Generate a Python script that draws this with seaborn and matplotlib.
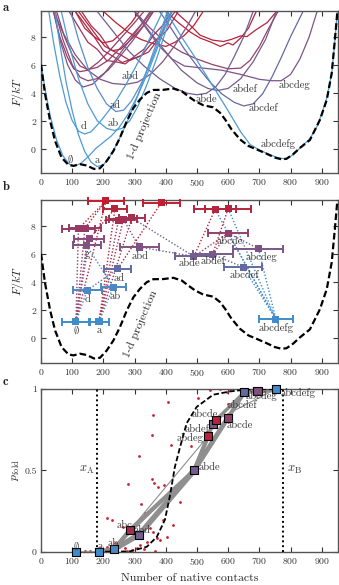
import numpy as np
import pandas as pd
import matplotlib
matplotlib.use("Agg")
import matplotlib.pyplot as plt
import seaborn as sns
from matplotlib.colors import LinearSegmentedColormap, Normalize

# ---------------- data: panel b states ----------------
state_names = ["E", "a", "d", "ab", "ad", "abcdef", "abde", "abdef", "abcdeg", "abd",
               "g", "u1", "abcde", "u2", "u3", "u4", "u5", "u6", "u7", "u8",
               "u9", "u10", "u11", "abcdefg"]
state_x = [112, 186, 148, 232, 246, 648, 490, 550, 697, 315,
           146, 155, 600, 120, 141, 248, 264, 291, 558, 600,
           237, 208, 385, 753]
state_F = [1.18, 1.18, 3.39, 3.63, 4.94, 5.05, 5.81, 5.96, 6.36, 6.48,
           6.60, 7.07, 7.47, 7.78, 7.83, 8.38, 8.45, 8.55, 9.16, 9.21,
           9.21, 9.76, 9.62, 1.35]
state_xerr = [44, 33, 47, 39, 44, 60, 61, 64, 80, 62,
              45, 48, 64, 54, 51, 40, 45, 42, 66, 74,
              38, 58, 59, 54]
state_labels_b = {"E": "$\\emptyset$", "a": "a", "d": "d", "ab": "ab", "ad": "ad",
                  "abd": "abd", "g": "g", "abde": "abde", "abdef": "abdef",
                  "abcde": "abcde", "abcdeg": "abcdeg", "abcdef": "abcdef",
                  "abcdefg": "abcdefg"}
label_pos_b = {"E": (112, 0.55), "a": (186, 0.55), "d": (150, 2.8), "ab": (237, 2.96),
               "ad": (250, 4.29), "abd": (317, 5.85), "g": (148, 6.0), "abde": (475, 5.33),
               "abdef": (552, 5.47), "abcde": (606, 6.9), "abcdeg": (707, 5.76),
               "abcdef": (652, 4.45), "abcdefg": (755, 0.73)}

# transitions drawn as dotted lines in panel b: (from, to, colour-of-state)
edges_b = [("E", "u2", "u2"), ("E", "u3", "u3"), ("E", "u1", "u1"), ("E", "g", "g"),
           ("E", "u10", "u10"), ("E", "d", "d"), ("a", "u9", "u9"), ("a", "u4", "u4"),
           ("a", "u5", "u5"), ("a", "u6", "u6"), ("a", "ab", "ab"), ("d", "ad", "ad"),
           ("g", "ab", "ab"), ("u2", "u10", "u10"), ("u3", "u10", "u10"), ("u1", "u9", "u9"),
           ("u6", "abde", "abde"), ("abd", "abde", "abde"), ("ad", "u11", "u11"),
           ("abde", "abcde", "abcde"), ("abde", "u7", "u7"), ("abdef", "abcde", "abcde"),
           ("abdef", "u8", "u8"), ("abde", "abdef", "abdef"), ("abcde", "abcdeg", "abcdeg"),
           ("abcdef", "abcdefg", "abcdefg"), ("abcdeg", "abcdefg", "abcdefg"),
           ("abcde", "abcdefg", "abcdefg"), ("u8", "abcdefg", "abcdefg"),
           ("u7", "abcdefg", "abcdefg"), ("abdef", "abcdef", "abcdef"), ("u5", "abd", "abd")]

# ---------------- data: panel a free-energy curves (x, F) ----------------
fe_E = [(0, 6.0), (15, 4.0), (30, 2.3), (50, 0.6), (70, -0.5), (90, -1.1), (105, -1.22),
        (125, -1.1), (150, -0.6), (175, 0.0), (200, 0.45), (225, 0.9), (250, 1.5), (280, 2.5),
        (310, 3.8), (340, 5.3), (370, 7.0), (400, 8.8), (418, 9.8)]
fe_a = [(45, 9.8), (60, 7.5), (80, 4.8), (100, 2.7), (120, 1.0), (140, -0.2), (160, -0.95),
        (180, -1.28), (200, -1.15), (220, -0.6), (245, 0.4), (270, 1.6), (300, 3.2),
        (330, 5.0), (360, 6.9), (390, 8.8), (405, 9.8)]
fe_d = [(25, 9.8), (40, 7.6), (60, 5.2), (80, 3.3), (100, 2.0), (120, 1.25), (140, 1.05),
        (160, 1.2), (185, 1.8), (210, 2.5), (240, 3.4), (270, 4.5), (300, 5.7), (330, 7.0),
        (360, 8.4), (390, 9.8)]
fe_ab = [(65, 9.8), (90, 7.4), (120, 5.0), (150, 3.2), (180, 2.0), (210, 1.45), (235, 1.3),
         (260, 1.45), (285, 2.0), (310, 3.0), (340, 4.6), (370, 6.4), (400, 8.4), (420, 9.8)]
fe_ad = [(95, 9.8), (120, 7.8), (150, 5.8), (180, 4.3), (210, 3.2), (240, 2.65), (265, 2.75),
         (290, 3.4), (320, 4.6), (350, 6.1), (380, 7.8), (410, 9.8)]
fe_abcdefg = [(400, 9.8), (450, 8.0), (500, 6.3), (550, 4.5), (600, 2.7), (640, 1.2),
              (670, 0.3), (700, -0.1), (730, -0.4), (760, -0.65), (787, -0.75), (810, -0.4),
              (835, 0.15), (862, 0.7), (885, 1.6), (900, 2.5), (916, 3.6), (932, 5.4),
              (942, 7.7), (950, 9.8)]
fe_abd = [(40, 9.8), (70, 8.3), (110, 6.7), (150, 5.6), (190, 4.95), (230, 4.65), (270, 4.58),
          (310, 4.75), (350, 5.3), (390, 6.2), (430, 7.4), (470, 8.8), (495, 9.8)]
fe_abde = [(180, 9.8), (230, 8.4), (280, 7.0), (330, 5.9), (380, 5.0), (430, 4.3), (470, 3.95),
           (500, 3.85), (530, 3.95), (560, 4.4), (590, 5.3), (620, 6.6), (650, 8.0), (680, 9.8)]
fe_abdef = [(300, 9.8), (350, 8.3), (400, 6.9), (450, 5.6), (500, 4.7), (535, 4.3), (565, 4.15),
            (600, 4.3), (640, 5.0), (680, 6.2), (720, 7.8), (755, 9.8)]
fe_abcdef = [(380, 9.8), (420, 8.5), (460, 7.1), (500, 5.9), (540, 4.8), (580, 3.9), (620, 3.3),
             (650, 3.05), (680, 3.2), (710, 3.9), (740, 5.1), (770, 6.5), (800, 8.0), (840, 9.8)]
fe_abcdeg = [(300, 9.8), (340, 8.5), (380, 7.3), (420, 6.4), (460, 5.9), (520, 5.75), (580, 5.6),
             (640, 5.3), (700, 4.95), (740, 4.85), (770, 4.85), (800, 5.3), (830, 6.4),
             (860, 8.0), (885, 9.8)]
fe_abcde = [(300, 9.8), (350, 8.6), (400, 7.6), (450, 6.9), (500, 6.4), (550, 6.0), (600, 5.7),
            (640, 5.75), (670, 6.3), (700, 7.3), (730, 8.6), (760, 9.8)]
fe_g = [(40, 9.8), (60, 7.8), (85, 6.0), (110, 4.9), (135, 4.4), (165, 4.6), (200, 5.3),
        (240, 6.4), (280, 7.6), (320, 8.8), (350, 9.8)]
fe_u1 = [(45, 9.8), (70, 7.8), (100, 6.0), (125, 5.1), (150, 4.85), (180, 5.0), (215, 5.6),
         (250, 6.5), (290, 7.6), (330, 8.8), (360, 9.8)]
fe_u2 = [(40, 9.8), (60, 8.0), (85, 6.5), (105, 5.7), (125, 5.5), (150, 5.6), (185, 6.2),
         (220, 7.0), (260, 8.0), (300, 9.0), (330, 9.8)]
fe_u3 = [(50, 9.8), (75, 8.0), (100, 6.7), (125, 5.9), (150, 5.65), (180, 5.8), (215, 6.3),
         (255, 7.2), (295, 8.2), (335, 9.2), (355, 9.8)]
fe_u4 = [(90, 9.8), (120, 8.7), (150, 7.6), (180, 7.1), (210, 6.3), (240, 6.2), (270, 6.05),
         (300, 6.6), (330, 7.1), (360, 8.1), (390, 8.8), (420, 9.8)]
fe_u5 = [(110, 9.8), (140, 8.6), (170, 8.0), (200, 7.0), (230, 6.6), (260, 6.15), (290, 6.4),
         (320, 6.6), (350, 7.4), (380, 8.0), (410, 9.2), (430, 9.8)]
fe_u6 = [(130, 9.8), (160, 8.8), (190, 8.1), (220, 7.1), (255, 6.7), (285, 6.3), (315, 6.6),
         (345, 6.9), (375, 7.8), (405, 8.5), (440, 9.8)]
fe_u7 = [(400, 9.8), (440, 9.0), (480, 8.3), (510, 7.9), (545, 7.6), (575, 7.3), (600, 7.55),
         (615, 7.4), (640, 7.9), (665, 8.6), (690, 9.8)]
fe_u8 = [(430, 9.8), (470, 9.0), (510, 8.1), (550, 7.75), (585, 7.65), (610, 7.8), (640, 8.05),
         (660, 8.0), (690, 8.5), (725, 9.0), (755, 9.8)]
fe_u9 = [(120, 9.8), (150, 8.9), (180, 8.0), (205, 7.3), (230, 7.0), (255, 7.1), (280, 7.6),
         (310, 8.3), (340, 9.1), (360, 9.8)]
fe_u10 = [(110, 9.8), (140, 8.9), (170, 8.0), (200, 7.55), (230, 7.7), (260, 8.3), (290, 9.0),
          (315, 9.8)]
fe_u11 = [(200, 9.8), (240, 9.0), (280, 8.3), (320, 7.8), (360, 7.5), (400, 7.3), (430, 7.6),
          (460, 8.1), (490, 8.8), (520, 9.8)]

proj_1d = [(0, 6.0), (13, 3.9), (29, 2.0), (45, 0.55), (66, -0.64), (88, -1.16), (104, -1.23),
           (125, -1.11), (146, -1.2), (170, -1.45), (189, -1.4), (210, -0.9), (232, -0.17),
           (253, 0.78), (275, 1.97), (296, 2.9), (317, 3.5), (339, 3.98), (360, 4.19),
           (392, 4.2), (424, 4.29), (451, 4.1), (472, 3.74), (494, 3.39), (520, 3.1),
           (552, 2.95), (574, 2.56), (590, 2.09), (611, 1.37), (638, 0.66), (665, 0.19),
           (691, -0.05), (723, -0.36), (750, -0.64), (771, -0.76), (787, -0.72), (808, -0.4),
           (830, 0.05), (862, 0.62), (894, 2.05), (916, 3.48), (932, 5.4), (942, 7.76),
           (950, 9.8)]

labels_a = [("$\\emptyset$", 93, -0.72), ("a", 181, -0.86), ("d", 136, 1.57), ("ab", 232, 1.81),
            ("ad", 237, 3.12), ("abd", 285, 5.19), ("abde", 531, 3.55), ("abdef", 654, 4.24),
            ("abcdef", 713, 2.88), ("abcdeg", 814, 4.55), ("abcdefg", 761, 0.33)]

# ---------------- data: panel c ----------------
pc_names = ["E", "a", "ab", "abc", "abd", "abde", "abdeg", "abdef", "abcde1", "abcde2",
            "abcdef", "abcdeg", "abcdefg"]
pc_x = [112, 186, 233, 285, 315, 491, 536, 550, 561, 598, 652, 694, 753]
pc_p = [0.0, 0.0, 0.014, 0.133, 0.105, 0.50, 0.711, 0.783, 0.81, 0.82, 0.98, 0.988, 1.0]
pc_F = [1.18, 1.18, 3.63, 8.4, 5.8, 5.9, 9.2, 6.1, 9.2, 7.5, 5.05, 6.8, 1.35]
pc_labels = [("$\\emptyset$", 112, 0.035, "center"), ("a", 189, 0.035, "center"),
             ("ab", 232, 0.05, "center"), ("abc", 269, 0.16, "center"),
             ("abd", 323, 0.13, "center"), ("abde", 504, 0.52, "left"),
             ("abdeg", 478, 0.70, "center"), ("abdef", 499, 0.755, "center"),
             ("abcde", 526, 0.845, "center"), ("abcde", 594, 0.78, "left"),
             ("abcdef", 645, 0.90, "center"), ("abcdeg", 708, 0.96, "center"),
             ("abcdefg", 768, 0.975, "left")]
pc_edges = [("E", "a", 1.8), ("a", "ab", 3.5), ("ab", "abc", 3.0), ("ab", "abd", 4.0),
            ("abc", "abd", 1.5), ("abc", "abde", 3.0), ("abd", "abde", 4.0), ("ab", "abde", 0.8),
            ("abde", "abdeg", 3.0), ("abdeg", "abdef", 2.5), ("abdef", "abcde1", 3.0),
            ("abde", "abdef", 2.5), ("abde", "abcde2", 3.5), ("abcde1", "abcdef", 2.5),
            ("abcde2", "abcdef", 3.0), ("abcdef", "abcdeg", 3.0), ("abcdeg", "abcdefg", 4.0),
            ("abcdef", "abcdefg", 2.5), ("abde", "abcdef", 0.8), ("abcde1", "abcdefg", 0.8),
            ("abc", "abdeg", 0.8)]
sigmoid_1d = [(180, 0.0), (240, 0.0), (285, 0.002), (339, 0.03), (371, 0.09), (397, 0.195),
              (413, 0.34), (429, 0.52), (446, 0.645), (467, 0.79), (499, 0.89), (552, 0.965),
              (606, 0.985), (650, 0.995), (700, 1.0), (775, 1.0)]
red_dots_x = [360, 355, 408, 502, 542, 574, 606, 600, 416, 315, 280, 355, 362, 374, 393, 445,
              320, 381, 480, 522, 210, 229, 262, 305, 333, 390, 424, 358, 403, 358, 371, 381,
              339, 264, 237, 189, 210, 243, 317, 365, 291, 269, 307, 226, 157, 141, 349, 595,
              200, 250, 275, 330]
red_dots_p = [0.84, 0.72, 0.918, 0.947, 0.994, 1.0, 1.0, 0.91, 0.656, 0.588, 0.416, 0.445,
              0.424, 0.395, 0.41, 0.307, 0.295, 0.27, 0.65, 0.623, 0.205, 0.195, 0.152, 0.164,
              0.236, 0.195, 0.164, 0.215, 0.088, 0.123, 0.082, 0.072, 0.06, 0.068, 0.051, 0.025,
              0.031, 0.02, 0.041, 0.004, 0.01, 0.025, 0.02, 0.014, 0.006, 0.004, 0.143, 0.98,
              0.01, 0.03, 0.005, 0.015]
xA, xB = 178, 775

x_ticks = [0, 100, 200, 300, 400, 500, 600, 700, 800, 900]
F_ticks = [0, 2, 4, 6, 8]

# ---------------- style ----------------
sns.set_theme(style="ticks")
plt.rcParams["font.family"] = ["cmr10", "DejaVu Serif"]
plt.rcParams["mathtext.fontset"] = "cm"
plt.rcParams["axes.formatter.use_mathtext"] = True
plt.rcParams["axes.unicode_minus"] = True

cmap = LinearSegmentedColormap.from_list(
    "fe", [(0.0, "#3d8ccc"), (0.30, "#4b88c4"), (0.44, "#5f6da3"), (0.57, "#775a8c"),
           (0.69, "#884a78"), (0.82, "#9d3458"), (1.0, "#c41b2c")])
norm = Normalize(1.0, 9.8)
state_color = {n: cmap(norm(f)) for n, f in zip(state_names, state_F)}
curve_color = dict(state_color)
for n in ["E", "a", "d", "ab", "abcdefg"]:
    curve_color[n] = "#4e9bd4"
curve_color["ad"] = "#5a8ccb"

curves = {"E": fe_E, "a": fe_a, "d": fe_d, "ab": fe_ab, "ad": fe_ad, "abcdefg": fe_abcdefg,
          "abd": fe_abd, "abde": fe_abde, "abdef": fe_abdef, "abcdef": fe_abcdef,
          "abcdeg": fe_abcdeg, "abcde": fe_abcde, "g": fe_g, "u1": fe_u1, "u2": fe_u2,
          "u3": fe_u3, "u4": fe_u4, "u5": fe_u5, "u6": fe_u6, "u7": fe_u7, "u8": fe_u8,
          "u9": fe_u9, "u10": fe_u10, "u11": fe_u11}
rows = []
for name, pts in curves.items():
    for i, (x, f) in enumerate(pts):
        rows.append({"state": name, "x": x, "F": f, "i": i})
df_a = pd.DataFrame(rows)
Fmap = dict(zip(state_names, state_F))
hue_order = sorted(curves.keys(), key=lambda n: -Fmap[n])

fig = plt.figure(figsize=(3.39, 5.85), dpi=100)
ax_a = fig.add_axes([0.121, 0.704, 0.876, 0.277])
ax_b = fig.add_axes([0.121, 0.380, 0.876, 0.278])
ax_c = fig.add_axes([0.121, 0.057, 0.876, 0.278])

txt_c = "#333333"
tfs = 7.6


def style_axis(ax):
    ax.set_xlim(0, 952)
    ax.set_xticks(x_ticks)
    ax.tick_params(direction="in", top=True, right=True, length=3.5, width=0.8,
                   labelsize=7, pad=3, colors="#333333")
    for s in ax.spines.values():
        s.set_color("#555555")
        s.set_linewidth(1.0)


# ---------------- panel a ----------------
sns.lineplot(data=df_a, x="x", y="F", hue="state", units="state", estimator=None, sort=False,
             palette=curve_color, hue_order=hue_order, legend=False, lw=0.9, ax=ax_a)
px, pf = zip(*proj_1d)
ax_a.plot(px, pf, color="black", lw=1.6, ls=(0, (3, 1.4)), zorder=5)
for t, x, y in labels_a:
    ax_a.text(x, y, t, fontsize=tfs, color=txt_c, ha="center", va="center", zorder=6)
ax_a.text(330, 1.6, "1-d projection", fontsize=8.5, color=txt_c, rotation=67,
          ha="center", va="center", zorder=6)
ax_a.set_ylim(-1.75, 9.82)
ax_a.set_yticks(F_ticks)
ax_a.set_ylabel("$F/kT$", fontsize=8.5, labelpad=3)
ax_a.set_xlabel("")
style_axis(ax_a)

# ---------------- panel b ----------------
idx = {n: i for i, n in enumerate(state_names)}
for a_, b_, c_ in edges_b:
    ax_b.plot([state_x[idx[a_]], state_x[idx[b_]]], [state_F[idx[a_]], state_F[idx[b_]]],
              ls=(0, (1, 1.4)), lw=1.0, color=state_color[c_], zorder=2)
ax_b.plot(px, pf, color="black", lw=1.6, ls=(0, (3, 1.4)), zorder=3)
for n, x, f, e in zip(state_names, state_x, state_F, state_xerr):
    ax_b.errorbar(x, f, xerr=e, fmt="none", ecolor=state_color[n], elinewidth=1.4,
                  capsize=2.6, capthick=1.4, zorder=4, clip_on=False)
df_b = pd.DataFrame({"state": state_names, "x": state_x, "F": state_F})
sns.scatterplot(data=df_b, x="x", y="F", hue="state", palette=state_color, marker="s", s=26,
                linewidth=0, legend=False, ax=ax_b, zorder=5, clip_on=False)
for n, t in state_labels_b.items():
    x, y = label_pos_b[n]
    ax_b.text(x, y, t, fontsize=tfs, color=txt_c, ha="center", va="center", zorder=6)
ax_b.text(320, 1.0, "1-d projection", fontsize=8.5, color=txt_c, rotation=67,
          ha="center", va="center", zorder=6)
ax_b.set_ylim(-1.75, 9.82)
ax_b.set_yticks(F_ticks)
ax_b.set_ylabel("$F/kT$", fontsize=8.5, labelpad=3)
ax_b.set_xlabel("")
style_axis(ax_b)

# ---------------- panel c ----------------
cidx = {n: i for i, n in enumerate(pc_names)}
for a_, b_, w in pc_edges:
    ax_c.plot([pc_x[cidx[a_]], pc_x[cidx[b_]]], [pc_p[cidx[a_]], pc_p[cidx[b_]]],
              color="#8f8f8f", lw=w, solid_capstyle="round", zorder=2)
sns.scatterplot(x=red_dots_x, y=red_dots_p, color="#c8202e", s=4, linewidth=0, ax=ax_c,
                zorder=1, legend=False)
sx, sp = zip(*sigmoid_1d)
ax_c.plot(sx, sp, color="black", lw=1.3, ls=(0, (3, 1.4)), zorder=3)
ax_c.axvline(xA, color="black", lw=1.4, ls=(0, (1, 1.5)), zorder=3)
ax_c.axvline(xB, color="black", lw=1.4, ls=(0, (1, 1.5)), zorder=3)
pc_cols = {n: cmap(norm(f)) for n, f in zip(pc_names, pc_F)}
df_c = pd.DataFrame({"state": pc_names, "x": pc_x, "p": pc_p})
sns.scatterplot(data=df_c, x="x", y="p", hue="state", palette=pc_cols, marker="s", s=34,
                edgecolor="black", linewidth=0.8, legend=False, ax=ax_c, zorder=5,
                clip_on=False)
for t, x, y, ha in pc_labels:
    ax_c.text(x, y, t, fontsize=tfs, color=txt_c, ha=ha, va="center", zorder=6)
ax_c.text(148, 0.5, "$x_\\mathrm{A}$", fontsize=9, color=txt_c, ha="center", va="center")
ax_c.text(812, 0.5, "$x_\\mathrm{B}$", fontsize=9, color=txt_c, ha="center", va="center")
ax_c.set_ylim(0, 1)
ax_c.set_yticks([0, 0.5, 1])
ax_c.set_yticklabels(["0", "0.5", "1"])
ax_c.set_ylabel("$p_\\mathrm{fold}$", fontsize=8.5, labelpad=2)
ax_c.set_xlabel("Number of native contacts", fontsize=8.5, labelpad=5)
style_axis(ax_c)

for lab, y in [("a", 0.997), ("b", 0.690), ("c", 0.357)]:
    fig.text(0.008, y, lab, fontsize=9, family=["cmb10", "DejaVu Serif"],
             fontweight="bold", ha="left", va="top", color="#222222")

fig.savefig("out.png", dpi=100)
